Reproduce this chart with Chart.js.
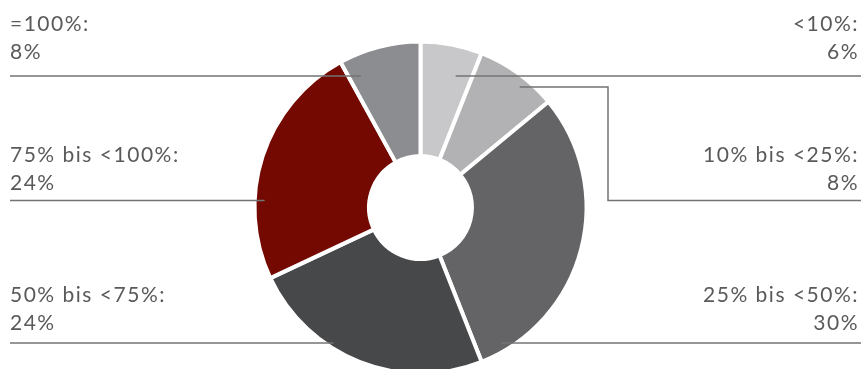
<!DOCTYPE html>
<html>
<head>
<meta charset="utf-8">
<script src="https://cdn.jsdelivr.net/npm/chart.js@4"></script>
<style>
  html, body { margin: 0; padding: 0; background: #fff; }
  #wrap { position: relative; width: 861px; height: 369px; overflow: hidden; }
  #chart { position: absolute; left: 0; top: 0; }
</style>
</head>
<body>
<div id="wrap"><canvas id="chart" width="861" height="415"></canvas></div>
<script>
const CATEGORIES = ["<10%", "10% bis <25%", "25% bis <50%", "50% bis <75%", "75% bis <100%", "=100%"];
const SHARES = [6, 8, 30, 24, 24, 8];
const COLORS = ["#c8c8ca", "#b2b2b4", "#646466", "#47484a", "#730900", "#8c8d90"];

// label blocks: which side, baselines of the two text lines, y of the rule,
// and how deep (fraction of the outer radius) the rule reaches into its slice
const LABELS = [
  { side: "right", lines: [31, 59], rule: 76, reach: 0.82 },
  { side: "right", lines: [162, 190], rule: 200.5, reach: 0.94, elbowY: 87, elbowX: 608 },
  { side: "right", lines: [302, 330], rule: 343, reach: 0.95 },
  { side: "left", lines: [302, 330], rule: 343, reach: 0.97 },
  { side: "left", lines: [162, 190], rule: 200.5, reach: 0.94 },
  { side: "left", lines: [31, 59], rule: 76, reach: 0.87 },
];

const TEXT_LEFT = 10;
const TEXT_RIGHT = 859;

const calloutPlugin = {
  id: "callouts",
  afterDatasetsDraw(chart) {
    const { ctx } = chart;
    const arc = chart.getDatasetMeta(0).data[0];
    const cx = arc.x, cy = arc.y, R = arc.outerRadius;

    ctx.save();
    ctx.strokeStyle = "#737373";
    ctx.lineWidth = 1.5;
    LABELS.forEach((lb) => {
      const dir = lb.side === "left" ? -1 : 1;
      ctx.beginPath();
      if (lb.elbowY != null) {
        const dy = lb.elbowY - cy;
        const x0 = cx + dir * Math.sqrt((lb.reach * R) ** 2 - dy * dy);
        ctx.moveTo(x0, lb.elbowY);
        ctx.lineTo(lb.elbowX, lb.elbowY);
        ctx.lineTo(lb.elbowX, lb.rule);
        ctx.lineTo(chart.width, lb.rule);
      } else {
        const dy = lb.rule - cy;
        const x0 = cx + dir * Math.sqrt((lb.reach * R) ** 2 - dy * dy);
        ctx.moveTo(x0, lb.rule);
        ctx.lineTo(dir < 0 ? TEXT_LEFT : chart.width, lb.rule);
      }
      ctx.stroke();
    });

    ctx.fillStyle = "#5a5a5a";
    ctx.font = "400 21px Lato, 'Open Sans', sans-serif";
    ctx.letterSpacing = "1.5px";
    ctx.textBaseline = "alphabetic";
    LABELS.forEach((lb, i) => {
      const left = lb.side === "left";
      ctx.textAlign = left ? "left" : "right";
      const x = left ? TEXT_LEFT : TEXT_RIGHT;
      ctx.fillText(CATEGORIES[i] + ":", x, lb.lines[0]);
      ctx.fillText(SHARES[i] + "%", x, lb.lines[1]);
    });
    ctx.restore();
  },
};

new Chart(document.getElementById("chart"), {
  type: "doughnut",
  data: {
    labels: CATEGORIES,
    datasets: [{
      data: SHARES,
      backgroundColor: COLORS,
      borderColor: "#fff",
      borderWidth: 4,
      hoverOffset: 0,
    }],
  },
  options: {
    responsive: false,
    animation: false,
    radius: 166,
    cutout: "31%",
    rotation: 0,
    layout: { padding: { left: 0, right: 20, top: 0, bottom: 0 } },
    plugins: {
      legend: { display: false },
      tooltip: { enabled: false },
    },
  },
  plugins: [calloutPlugin],
});
</script>
</body>
</html>
